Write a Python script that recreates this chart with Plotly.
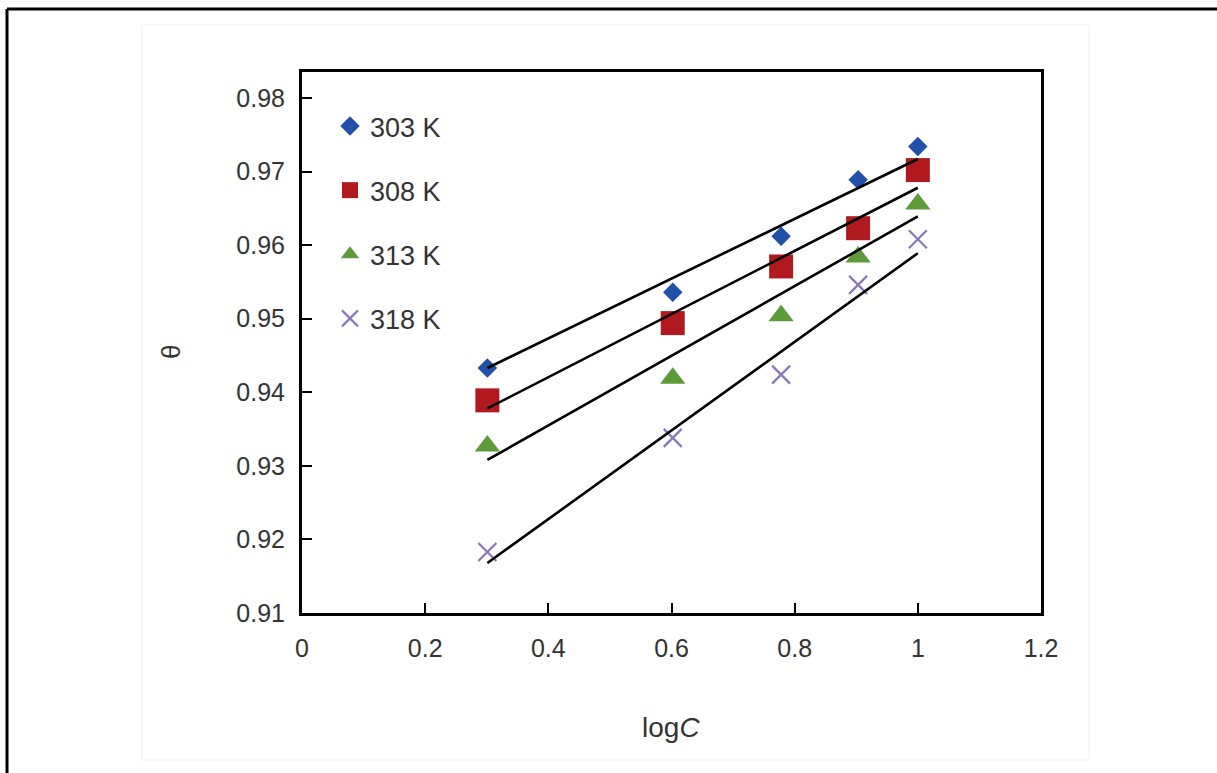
import plotly.graph_objects as go

# ---- data ----
x_logc = [0.301, 0.602, 0.778, 0.903, 1.0]
theta_303 = [0.9433, 0.9536, 0.9612, 0.9689, 0.9734]
theta_308 = [0.9389, 0.9494, 0.9571, 0.9623, 0.9702]
theta_313 = [0.9327, 0.9419, 0.9504, 0.9584, 0.9656]
theta_318 = [0.9183, 0.9338, 0.9424, 0.9546, 0.9608]

# linear trendlines (end points)
fit_x = [0.301, 1.0]
fit_303 = [0.9433, 0.9717]
fit_308 = [0.9378, 0.9678]
fit_313 = [0.9308, 0.9639]
fit_318 = [0.9168, 0.9589]

series_names = ["303 K", "308 K", "313 K", "318 K"]
x_ticks = [0, 0.2, 0.4, 0.6, 0.8, 1, 1.2]
y_ticks = [0.91, 0.92, 0.93, 0.94, 0.95, 0.96, 0.97, 0.98]

FONT = "Liberation Sans, Arial, sans-serif"
W, H = 1217, 773
L, R, T, B = 302, 1041, 72, 613

fig = go.Figure()

marker_styles = [
    dict(symbol="diamond", size=15, color="#2050a8"),
    dict(symbol="square", size=24, color="#b01a1f"),
    dict(symbol="triangle-up", size=22, color="#5d9b3a"),
    dict(symbol="x-thin", size=18, color="#8a78b8",
         line=dict(color="#8a78b8", width=2.2)),
]
all_theta = [theta_303, theta_308, theta_313, theta_318]
all_fit = [fit_303, fit_308, fit_313, fit_318]

for name, ys, ms in zip(series_names, all_theta, marker_styles):
    fig.add_trace(go.Scatter(
        x=x_logc, y=ys, mode="markers", name=name,
        marker=ms, legendgroup=name,
    ))

for name, fy in zip(series_names, all_fit):
    fig.add_trace(go.Scatter(
        x=fit_x, y=fy, mode="lines", showlegend=False,
        line=dict(color="black", width=2.6), hoverinfo="skip",
    ))

def px_to_paper_x(px):
    return (px - L) / (R - L)

def px_to_paper_y(py):
    return (B - py) / (B - T)

shapes = [
    # outer frame (top and left lines)
    dict(type="line", xref="paper", yref="paper",
         x0=px_to_paper_x(7), y0=px_to_paper_y(9),
         x1=px_to_paper_x(1217), y1=px_to_paper_y(9),
         line=dict(color="black", width=3)),
    dict(type="line", xref="paper", yref="paper",
         x0=px_to_paper_x(7), y0=px_to_paper_y(9),
         x1=px_to_paper_x(7), y1=px_to_paper_y(773),
         line=dict(color="black", width=3)),
    # faint background panel
    dict(type="rect", xref="paper", yref="paper", layer="below",
         x0=px_to_paper_x(142), y0=px_to_paper_y(25),
         x1=px_to_paper_x(1089), y1=px_to_paper_y(760),
         line=dict(color="#f0f0f0", width=1)),
]

annotations = [
    dict(text="log<i>C</i>", xref="paper", yref="paper",
         x=px_to_paper_x(671), y=px_to_paper_y(727),
         showarrow=False, font=dict(family=FONT, size=28, color="#333333"),
         xanchor="center", yanchor="middle"),
    dict(text="θ", xref="paper", yref="paper",
         x=px_to_paper_x(171), y=px_to_paper_y(352),
         showarrow=False, textangle=-90,
         font=dict(family=FONT, size=26, color="#333333"),
         xanchor="center", yanchor="middle"),
]

fig.update_layout(
    width=W, height=H,
    margin=dict(l=L, r=W - R, t=T, b=H - B, pad=0),
    paper_bgcolor="white", plot_bgcolor="white",
    font=dict(family=FONT, size=25, color="#333333"),
    shapes=shapes, annotations=annotations,
    showlegend=True,
    legend=dict(
        x=px_to_paper_x(330), y=px_to_paper_y(102), xanchor="left", yanchor="top",
        bgcolor="rgba(0,0,0,0)", borderwidth=0,
        font=dict(family=FONT, size=27, color="#333333"),
        tracegroupgap=26, itemsizing="trace",
    ),
)

fig.update_xaxes(
    range=[0, 1.2], tickvals=x_ticks, ticktext=[f"{v:g}" for v in x_ticks],
    ticks="inside", ticklen=10, tickwidth=2, tickcolor="black",
    showline=True, linecolor="black", linewidth=3, mirror=True,
    showgrid=False, zeroline=False, ticklabelstandoff=11,
    tickfont=dict(family=FONT, size=25, color="#333333"),
)
fig.update_yaxes(
    range=[0.91, 0.98353], tickvals=y_ticks, ticktext=[f"{v:.2f}" for v in y_ticks],
    ticks="inside", ticklen=10, tickwidth=2, tickcolor="black",
    showline=True, linecolor="black", linewidth=3, mirror=True,
    showgrid=False, zeroline=False, ticklabelstandoff=9,
    tickfont=dict(family=FONT, size=25, color="#333333"),
)

fig.write_html(
    "out.html",
    config={"displayModeBar": False},
    post_script="document.body.style.margin='0';document.body.style.overflow='hidden';",
)
